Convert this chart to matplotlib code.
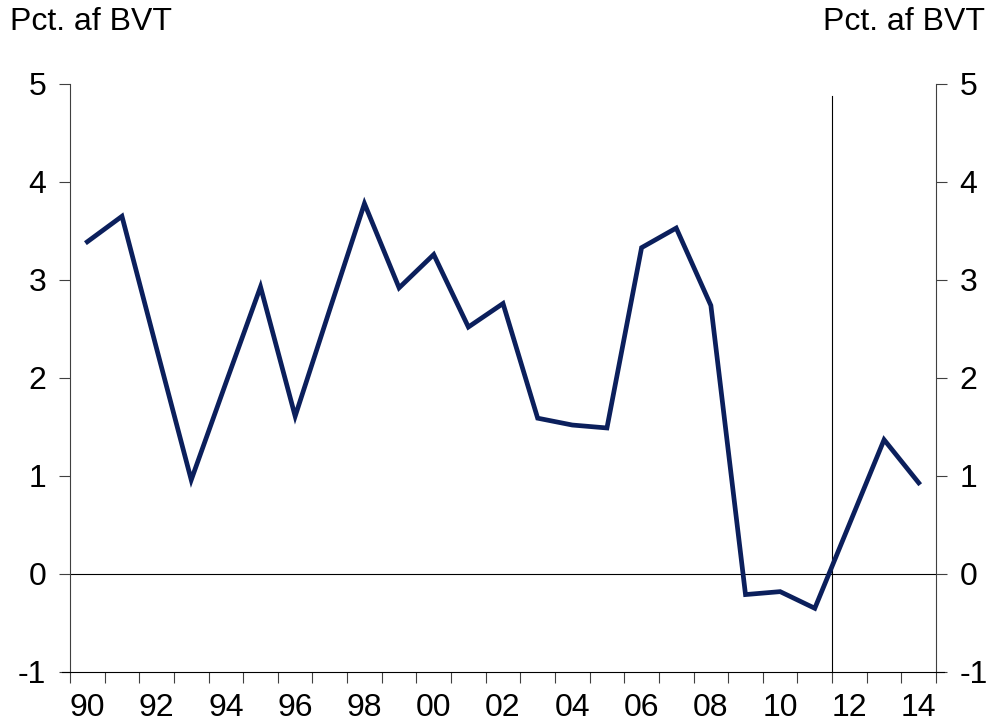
"""
Linje: pct. af BVT, 1990-2014
"""
import numpy as np
from matplotlib import pyplot as plt
from matplotlib.ticker import FixedLocator, NullFormatter

aar = list(range(1990, 2015))
vaerdi = [3.39, 3.65, 2.30, 0.96, 1.95, 2.93, 1.61, 2.70, 3.78, 2.92,
          3.26, 2.52, 2.76, 1.59, 1.52, 1.49, 3.33, 3.53, 2.74, -0.21,
          -0.18, -0.35, 0.51, 1.37, 0.93]
y_ticks = [-1, 0, 1, 2, 3, 4, 5]
enhed = 'Pct. af BVT'
skillelinje_aar = 2011.5


def main():
    plt.rcParams['font.family'] = ['Liberation Sans', 'DejaVu Sans']
    fs = 23
    farve = '#0b1f5c'
    spine_farve = '#404040'

    fig = plt.figure(figsize=(9.9, 7.26), dpi=100)
    ax = fig.add_axes([0.0707, 0.0744, 0.8748, 0.8099])

    x = np.arange(len(aar))
    ax.plot(x, vaerdi, color=farve, lw=3.4, solid_joinstyle='miter', zorder=3)
    ax.axhline(0, color='black', lw=0.8, zorder=2)
    xv = aar.index(int(skillelinje_aar)) + (skillelinje_aar - int(skillelinje_aar))
    ax.axvline(xv, ymin=0, ymax=(4.88 - y_ticks[0]) / (y_ticks[-1] - y_ticks[0]),
               color='black', lw=0.8, zorder=2)

    ax.set_xlim(-0.5, len(aar) - 0.5)
    ax.set_ylim(y_ticks[0], y_ticks[-1])

    # kategori-akse: etiketter i midten, streger ved graenserne
    ax.set_xticks(x[::2])
    ax.set_xticklabels([f'{a % 100:02d}' for a in aar[::2]], fontsize=fs)
    ax.xaxis.set_minor_locator(FixedLocator(np.arange(-0.5, len(aar), 1.0)))
    ax.xaxis.set_minor_formatter(NullFormatter())
    ax.tick_params(axis='x', which='major', length=0, pad=15)
    ax.tick_params(axis='x', which='minor', length=8, width=0.8, color=spine_farve, direction='out')

    ax.set_yticks(y_ticks)
    ax.set_yticklabels([str(v) for v in y_ticks], fontsize=fs)
    ax.tick_params(axis='y', which='major', length=8, width=0.8, color=spine_farve,
                   direction='out', left=True, right=True, labelleft=True, labelright=True, pad=9)

    ax.spines['top'].set_visible(False)
    for s in ['left', 'right']:
        ax.spines[s].set_color(spine_farve)
        ax.spines[s].set_linewidth(0.8)
    ax.spines['bottom'].set_color('black')
    ax.spines['bottom'].set_linewidth(0.8)
    ax.spines['bottom'].set_bounds(-0.73, len(aar) - 0.27)

    fig.text(10 / 990, 1 - 22 / 726, enhed, fontsize=fs, ha='left', va='center')
    fig.text(985 / 990, 1 - 22 / 726, enhed, fontsize=fs, ha='right', va='center')

    fig.savefig('out.png', dpi=100)


if __name__ == '__main__':
    main()
